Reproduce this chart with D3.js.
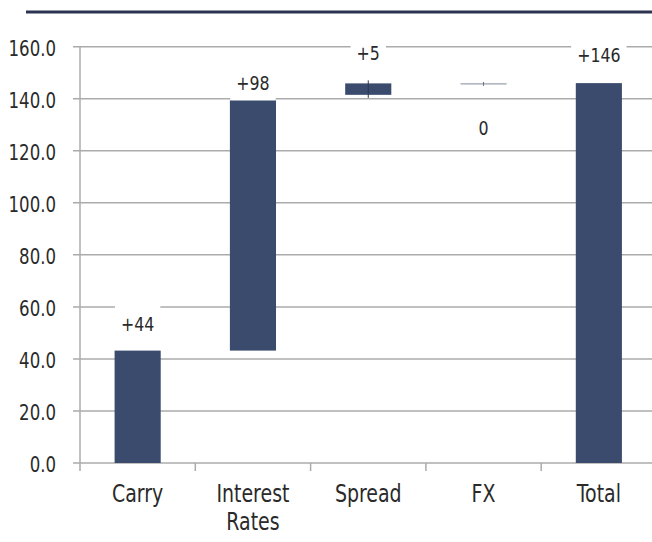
<!DOCTYPE html>
<html>
<head>
<meta charset="utf-8">
<script src="https://cdn.jsdelivr.net/npm/d3@7/dist/d3.min.js"></script>
<style>
  html, body { margin: 0; padding: 0; background: #ffffff; }
  svg { display: block; }
</style>
</head>
<body>
<svg id="chart" width="652" height="542"></svg>
<script>
// ---- data ----
const categories = ["Carry", "Interest Rates", "Spread", "FX", "Total"];
const barStart   = [0, 43.2, 141.5, 145.7, 0];
const barEnd     = [43.2, 139.4, 145.9, 145.7, 146];
const valueLabels = ["+44", "+98", "+5", "0", "+146"];
const yTicks = [0, 20, 40, 60, 80, 100, 120, 140, 160];

// ---- layout / style ----
const labelDy = [-27, -18, -31, 44, -28];
const FONT = "'DejaVu Sans', sans-serif";
const SX = 0.79; // horizontal squeeze to mimic the condensed typeface
const barColor = "#3b4b6e";
const gridColor = "#ababab";
const textColor = "#2a2a2a";

const svg = d3.select("#chart");
const x = d3.scaleBand().domain(categories).range([80, 656.5]).padding(0);
const y = d3.scaleLinear().domain([0, 160]).range([463, 46.7]);
const bw = x.bandwidth() * 0.4;
const tf = (px, py) => `translate(${px},${py}) scale(${SX},1)`;

// top rule
svg.append("line").attr("x1", 26).attr("x2", 652).attr("y1", 12).attr("y2", 12)
  .attr("stroke", "#2b3350").attr("stroke-width", 3);

// gridlines + y labels
const gy = svg.append("g");
gy.selectAll("line").data(yTicks.filter(d => d > 0)).join("line")
  .attr("x1", 73).attr("x2", 652)
  .attr("y1", d => y(d)).attr("y2", d => y(d))
  .attr("stroke", gridColor).attr("stroke-width", 1.5);
gy.selectAll("text").data(yTicks).join("text")
  .attr("transform", d => tf(56, y(d) + 1.5)).attr("dy", "0.36em")
  .attr("text-anchor", "end")
  .attr("font-family", FONT).attr("font-size", 21).attr("fill", textColor)
  .text(d => d3.format(".1f")(d));

// y axis line
svg.append("line").attr("x1", 80).attr("x2", 80).attr("y1", y(160)).attr("y2", y(0))
  .attr("stroke", gridColor).attr("stroke-width", 1.5);

// x axis line + ticks
svg.append("line").attr("x1", 73).attr("x2", 652).attr("y1", y(0)).attr("y2", y(0))
  .attr("stroke", gridColor).attr("stroke-width", 1.5);
svg.append("g").selectAll("line").data(categories).join("line")
  .attr("x1", d => x(d)).attr("x2", d => x(d))
  .attr("y1", y(0)).attr("y2", y(0) + 8)
  .attr("stroke", gridColor).attr("stroke-width", 1.5);

// category labels
svg.append("g").selectAll("text").data(categories).join("text")
  .attr("transform", d => tf(x(d) + x.bandwidth() / 2, 502))
  .attr("text-anchor", "middle")
  .attr("font-family", FONT).attr("font-size", 24).attr("fill", textColor)
  .each(function(d) {
    const words = d.split(" ");
    const t = d3.select(this);
    words.forEach((w, i) => {
      t.append("tspan").attr("x", 0)
        .attr("dy", i === 0 ? 0 : 28).text(w);
    });
  });

const idx = d3.range(categories.length);
const barTop = i => y(Math.max(barStart[i], barEnd[i]));
const cx = i => x(categories[i]) + x.bandwidth() / 2;

// value labels with white boxes that break the gridlines
const labelG = svg.append("g");
const texts = labelG.selectAll("text").data(idx).join("text")
  .attr("transform", i => tf(cx(i), barTop(i) + labelDy[i]))
  .attr("dy", "0.36em")
  .attr("text-anchor", "middle")
  .attr("font-family", FONT).attr("font-size", 20).attr("fill", textColor)
  .text(i => valueLabels[i]);
texts.each(function(i) {
  const w = this.getBBox().width * SX;
  labelG.insert("rect", "text")
    .attr("x", cx(i) - w / 2 - 6).attr("width", w + 12)
    .attr("y", barTop(i) + labelDy[i] - 18).attr("height", 36)
    .attr("fill", "#ffffff");
});

// bars
const barsG = svg.append("g");
barsG.selectAll("rect").data(idx.filter(i => barStart[i] !== barEnd[i])).join("rect")
  .attr("x", i => cx(i) - bw / 2)
  .attr("width", bw)
  .attr("y", i => y(Math.max(barStart[i], barEnd[i])))
  .attr("height", i => Math.abs(y(barStart[i]) - y(barEnd[i])))
  .attr("fill", barColor);

// zero-height bars drawn as thin lines with a centre tick
idx.filter(i => barStart[i] === barEnd[i]).forEach(i => {
  barsG.append("line")
    .attr("x1", cx(i) - bw / 2).attr("x2", cx(i) + bw / 2)
    .attr("y1", y(barEnd[i])).attr("y2", y(barEnd[i]))
    .attr("stroke", "#9aa0ad").attr("stroke-width", 1.2);
  barsG.append("line")
    .attr("x1", cx(i)).attr("x2", cx(i))
    .attr("y1", y(barEnd[i]) - 2).attr("y2", y(barEnd[i]) + 2)
    .attr("stroke", "#6a7186").attr("stroke-width", 1);
});
// small centre marker on the spread bar
[2].forEach(i => {
  barsG.append("line")
    .attr("x1", cx(i)).attr("x2", cx(i))
    .attr("y1", y(barEnd[i]) - 3).attr("y2", y(barStart[i]) + 3)
    .attr("stroke", "#2b3350").attr("stroke-width", 1);
});

labelG.raise();
</script>
</body>
</html>
